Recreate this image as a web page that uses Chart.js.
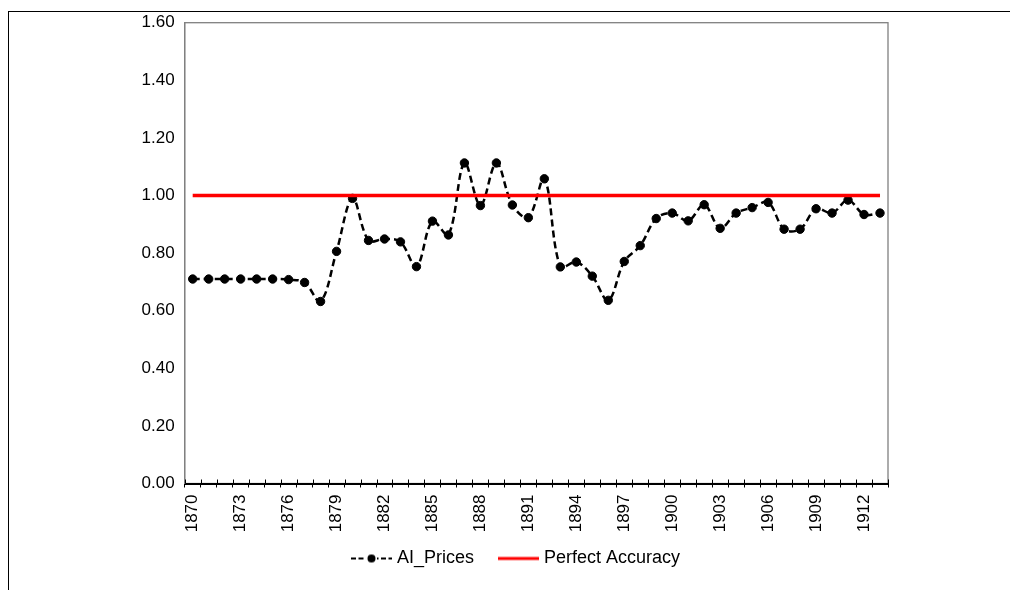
<!DOCTYPE html>
<html>
<head>
<meta charset="utf-8">
<script src="https://cdn.jsdelivr.net/npm/chart.js@4/dist/chart.umd.min.js"></script>
<style>
  body { margin: 0; background: #fff; }
  #wrap { position: relative; width: 1010px; height: 590px; overflow: hidden; }
  #frame { position: absolute; left: 8px; top: 11px; right: -2px; bottom: -2px; border-top: 1px solid #000; border-left: 1px solid #000; }
  #chart { position: absolute; left: 0; top: 0; }
</style>
</head>
<body>
<div id="wrap">
  <div id="frame"></div>
  <canvas id="chart" width="1010" height="590"></canvas>
</div>
<script>
const years = ['1870','1871','1872','1873','1874','1875','1876','1877','1878','1879',
  '1880','1881','1882','1883','1884','1885','1886','1887','1888','1889',
  '1890','1891','1892','1893','1894','1895','1896','1897','1898','1899',
  '1900','1901','1902','1903','1904','1905','1906','1907','1908','1909',
  '1910','1911','1912','1913'];

const aiPrices = [0.71, 0.71, 0.71, 0.71, 0.71, 0.71, 0.708, 0.698, 0.632, 0.806,
  0.99, 0.844, 0.849, 0.839, 0.753, 0.911, 0.863, 1.113, 0.965, 1.113,
  0.967, 0.923, 1.058, 0.752, 0.769, 0.72, 0.636, 0.771, 0.826, 0.92,
  0.939, 0.912, 0.968, 0.886, 0.939, 0.958, 0.976, 0.883, 0.883, 0.954,
  0.939, 0.984, 0.934, 0.939];

const perfectAccuracy = [1, 1, 1, 1, 1, 1, 1, 1, 1, 1,
  1, 1, 1, 1, 1, 1, 1, 1, 1, 1,
  1, 1, 1, 1, 1, 1, 1, 1, 1, 1,
  1, 1, 1, 1, 1, 1, 1, 1, 1, 1,
  1, 1, 1, 1];

const tickYears = ['1870','1873','1876','1879','1882','1885','1888','1891','1894','1897','1900','1903','1906','1909','1912'];
const yTicks = [0, 0.2, 0.4, 0.6, 0.8, 1.0, 1.2, 1.4, 1.6];

const FONT = "'Liberation Sans', Arial, sans-serif";

// legend icons drawn like the excel ones (12px blank on the left so the gap between items looks right)
function legendIcon(kind) {
  const c = document.createElement('canvas');
  c.width = 53;
  c.height = 10;
  const g = c.getContext('2d');
  const x0 = 12;
  if (kind === 'dash') {
    g.strokeStyle = '#000';
    g.lineWidth = 2;
    g.setLineDash([5, 2.5]);
    g.beginPath();
    g.moveTo(x0, 5);
    g.lineTo(x0 + 41, 5);
    g.stroke();
    g.clearRect(x0 + 15, 0, 11, 10);
    g.setLineDash([]);
    g.fillStyle = '#000';
    g.beginPath();
    g.arc(x0 + 20.5, 5, 4, 0, Math.PI * 2);
    g.fill();
  } else {
    g.strokeStyle = '#ff0000';
    g.lineWidth = 3;
    g.beginPath();
    g.moveTo(x0, 5);
    g.lineTo(x0 + 41, 5);
    g.stroke();
  }
  return c;
}
const iconDash = legendIcon('dash');
const iconRed = legendIcon('red');

// grey plot box + tick marks crossing the x axis
const plotBox = {
  id: 'plotBox',
  beforeDraw(chart) {
    const a = chart.chartArea;
    const ctx = chart.ctx;
    ctx.save();
    ctx.strokeStyle = '#808080';
    ctx.lineWidth = 1.3;
    ctx.strokeRect(a.left, a.top, a.right - a.left, a.bottom - a.top);
    ctx.restore();
  },
  beforeDatasetsDraw(chart) {
    const xs = chart.scales.x;
    const a = chart.chartArea;
    const ctx = chart.ctx;
    ctx.save();
    ctx.strokeStyle = '#000';
    ctx.lineWidth = 1;
    for (let i = 0; i <= years.length; i++) {
      const x = Math.round(xs.getPixelForValue(i - 0.5)) + 0.5;
      ctx.beginPath();
      ctx.moveTo(x, a.bottom - 4);
      ctx.lineTo(x, a.bottom);
      ctx.stroke();
    }
    ctx.restore();
  }
};

const ctx = document.getElementById('chart').getContext('2d');
const chart = new Chart(ctx, {
  type: 'line',
  data: {
    labels: years,
    datasets: [{
      label: 'AI_Prices',
      data: aiPrices,
      borderColor: '#000',
      borderWidth: 2.5,
      borderDash: [7, 4],
      tension: 0.35,
      pointRadius: 4.2,
      pointBackgroundColor: '#000',
      pointBorderColor: '#000',
      pointBorderWidth: 1,
      fill: false,
      order: 1
    }, {
      label: 'Perfect Accuracy',
      data: perfectAccuracy,
      borderColor: '#ff0000',
      borderWidth: 3.3,
      pointRadius: 0,
      tension: 0,
      fill: false,
      order: 0
    }]
  },
  options: {
    responsive: false,
    animation: false,
    layout: { padding: { left: 135, right: 122, top: 22.7, bottom: 12.5 } },
    scales: {
      x: {
        type: 'category',
        offset: true,
        grid: { display: true, offset: true, drawOnChartArea: false, drawTicks: true, tickLength: 4, color: '#000', lineWidth: 1 },
        border: { display: true, color: '#000', width: 2 },
        ticks: {
          autoSkip: false,
          minRotation: 90,
          maxRotation: 90,
          padding: 7,
          color: '#000',
          font: { family: FONT, size: 17 },
          callback: function(val, idx) {
            const lab = this.getLabelForValue(val);
            return tickYears.includes(lab) ? lab : '';
          }
        },
        afterFit: s => { s.height = 50; }
      },
      y: {
        min: 0,
        max: 1.6,
        grid: { display: false, drawTicks: false },
        border: { display: true, color: '#808080', width: 1.3 },
        afterBuildTicks: s => { s.ticks = yTicks.map(v => ({ value: v })); },
        ticks: {
          padding: 10,
          color: '#000',
          font: { family: FONT, size: 17 },
          callback: v => v.toFixed(2)
        },
        afterFit: s => { s.width = 49.7; }
      }
    },
    plugins: {
      tooltip: { enabled: false },
      legend: {
        position: 'bottom',
        labels: {
          usePointStyle: true,
          pointStyleWidth: 45,
          padding: 16,
          color: '#000',
          font: { family: FONT, size: 18 },
          generateLabels: () => [
            { text: 'AI_Prices', pointStyle: iconDash, datasetIndex: 0, hidden: false, lineWidth: 0, fontColor: '#000' },
            { text: 'Perfect Accuracy', pointStyle: iconRed, datasetIndex: 1, hidden: false, lineWidth: 0, fontColor: '#000' }
          ]
        }
      }
    }
  },
  plugins: [plotBox]
});
</script>
</body>
</html>
